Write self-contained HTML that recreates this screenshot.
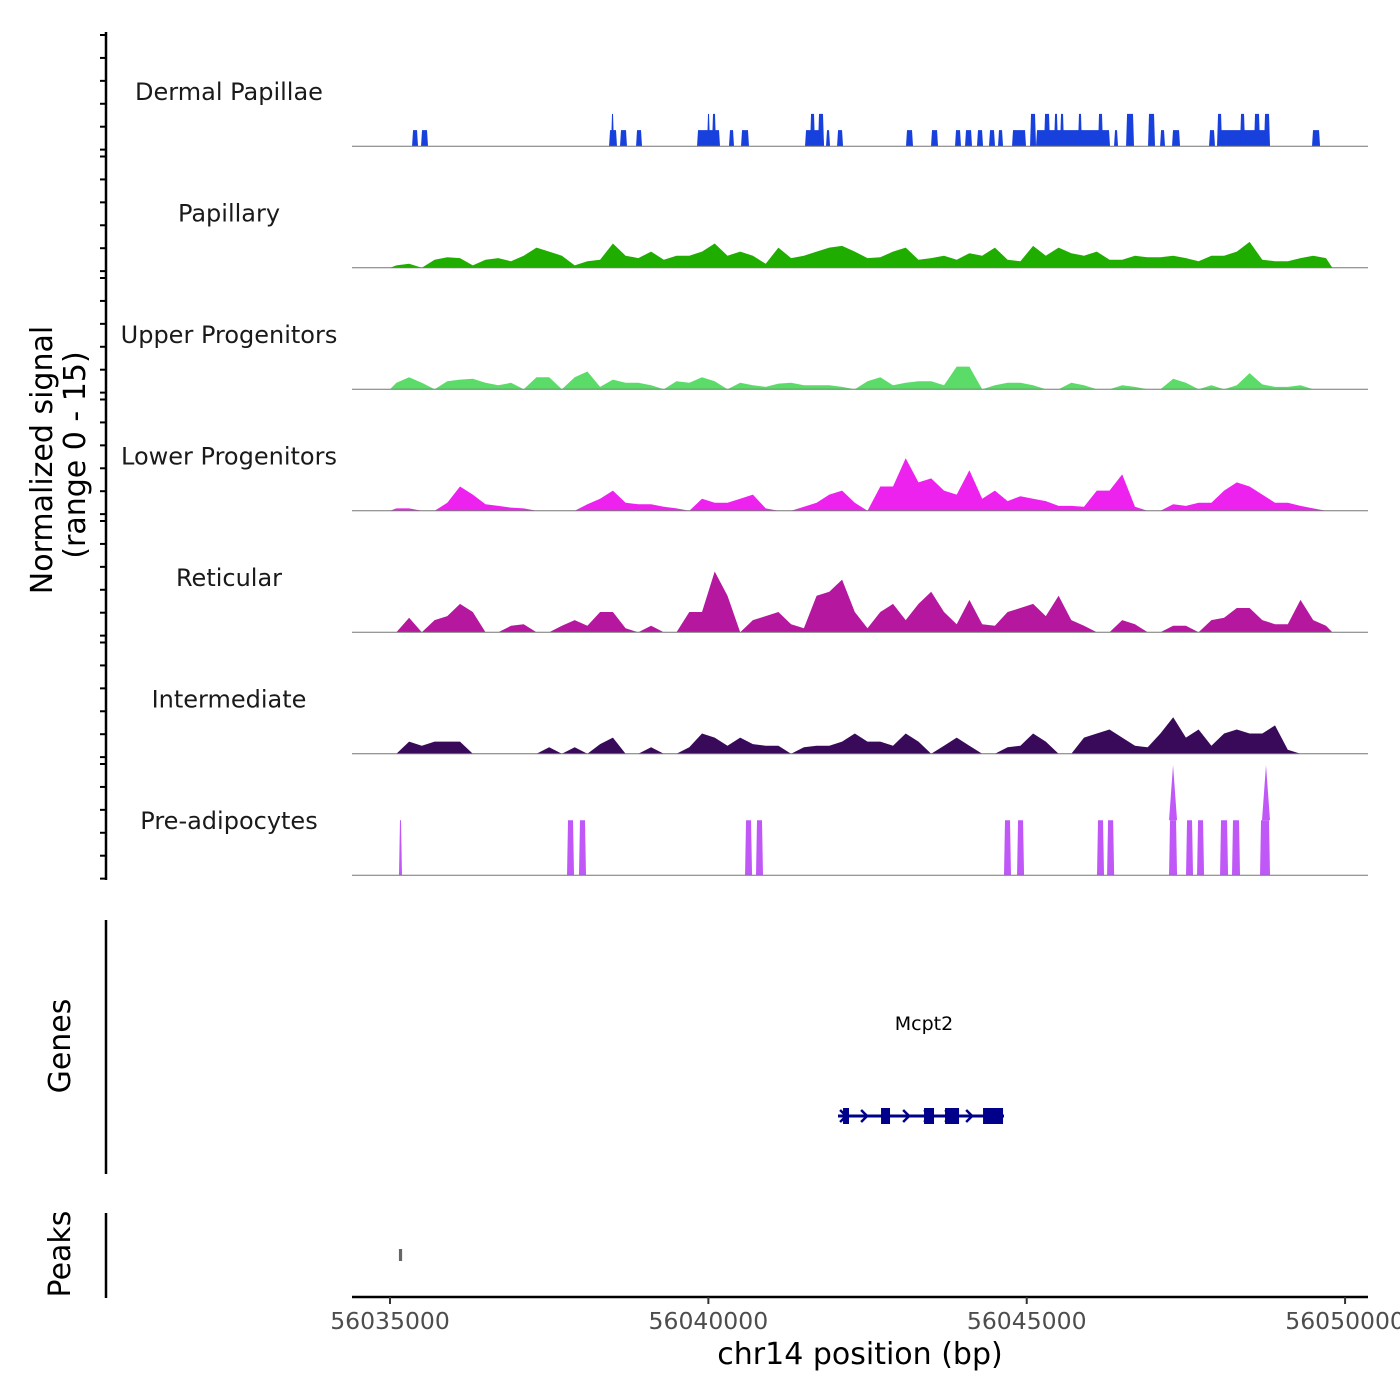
<!DOCTYPE html>
<html><head><meta charset="utf-8"><style>
html,body{margin:0;padding:0;background:#fff;}
svg{display:block;font-family:"DejaVu Sans","Liberation Sans",sans-serif;}
</style></head><body>
<svg id="chart" width="1400" height="1400" viewBox="0 0 1400 1400" xmlns="http://www.w3.org/2000/svg">
<g id="axes"></g>
<g id="tracks"></g>
<g id="genes"></g>
<text transform="translate(52,460) rotate(-90)" text-anchor="middle" font-size="30" fill="#000">Normalized signal</text>
<text transform="translate(85,455) rotate(-90)" text-anchor="middle" font-size="30" fill="#000">(range 0 - 15)</text>
<text transform="translate(70,1046) rotate(-90)" text-anchor="middle" font-size="30" fill="#000">Genes</text>
<text transform="translate(70,1254) rotate(-90)" text-anchor="middle" font-size="30" fill="#000">Peaks</text>
<text x="860" y="1364" text-anchor="middle" font-size="30" fill="#000">chr14 position (bp)</text>
</svg>
<script>
const regionStart = 56034403, regionEnd = 56050360;
const xTicks = [56035000, 56040000, 56045000, 56050000];
const xTickLabels = ["56035000", "56040000", "56045000", "56050000"];
const trackNames = ["Dermal Papillae","Papillary","Upper Progenitors","Lower Progenitors","Reticular","Intermediate","Pre-adipocytes"];
const trackColors = ["#1740dc","#1fae00","#5bdc68","#ee22ee","#b5179e","#3a0a5a","#c058f8"];
const binStart = 56035000, binSize = 200;
const papillary = [0.3,0.5,0,1,1.3,1.2,0.3,1,1.2,0.8,1.5,2.5,2,1.5,0.3,0.8,1,3,1.5,1.2,2,1,1.5,1.5,2,3,1.5,2,1.5,0.5,2.5,1.2,1.5,2,2.5,2.7,2,1.2,1.3,2,2.5,1,1.2,1.5,1,1.8,1.5,2.5,1,0.8,2.7,1.5,2.5,1.8,1.5,2,1,1,1.5,1.3,1.3,1.5,1.2,0.8,1.5,1.5,2,3.2,1,0.8,0.8,1.2,1.5,1.2];
const upperProg = [0.8,1.5,0.8,0,1,1.2,1.3,0.8,0.5,0.8,0,1.5,1.5,0,1.5,2.2,0.3,1.2,0.8,0.8,0.5,0,1,0.8,1.5,1,0,0.8,0.5,0.3,0.7,0.8,0.5,0.5,0.5,0.3,0,1,1.5,0.5,0.8,1,1,0.5,2.8,2.8,0,0.5,0.8,0.8,0.5,0,0,0.8,0.5,0,0,0.5,0.3,0,0,1.3,0.8,0,0.5,0,0.5,2,0.6,0.3,0.3,0.5,0,0];
const lowerProg = [0.3,0.3,0,0,1,3,2,0.8,0.6,0.4,0.3,0,0,0,0,0.8,1.5,2.5,1,0.8,0.8,0.5,0.3,0,1.5,1,1,1.5,2,0.3,0,0,0.5,1,2,2.5,1,0,3,3,6.5,3.5,4,2.5,2,5,1.5,2.5,1.2,1.8,1.5,1.2,0.6,0.6,0.5,2.5,2.5,4.5,0.5,0,0,0.8,0.6,1,1,2.5,3.5,3,2,1,1,0.6,0.3,0];
const reticular = [0,1.8,0,1.5,2,3.5,2.5,0,0,0.8,1,0,0,0.8,1.5,0.8,2.5,2.5,0.5,0,0.8,0,0,2.5,2.5,7.5,4.5,0,1.5,2,2.5,1,0.5,4.5,5,6.5,2.5,0.5,2.5,3.5,1.5,3.5,5,2.5,1,4,1,0.8,2.5,3,3.5,2,4.5,1.5,0.8,0,0,1.5,1,0,0,0.8,0.8,0,1.5,1.8,3,3,1.5,1,1,4,1.5,0.8];
const intermediate = [0,1.5,1,1.5,1.5,1.5,0,0,0,0,0,0,0.8,0,0.8,0,1.2,2,0,0,0.8,0,0,0.8,2.5,2,1,2,1.2,1,1,0,0.8,1,1,1.5,2.5,1.5,1.5,1,2.5,1.5,0,1,2,1,0,0,0.8,1,2.5,1.5,0,0,2,2.5,3,2,1,0.8,2.5,4.5,2,3,1,2.5,3,2.5,2.5,3.5,0.5,0,0,0];
const dpStarts = [56035346,56035487,56038440,56038471,56038612,56038864,56039822,56039979,56040057,56040324,56040513,56041518,56041597,56041722,56041848,56042021,56043104,56043497,56043874,56044031,56044219,56044408,56044549,56044769,56045052,56045146,56045272,56045429,56045523,56045805,56046120,56046371,56046560,56046905,56047094,56047282,56047863,56047989,56048036,56048350,56048570,56048727,56049481];
const dpEnds   = [56035440,56035597,56038565,56038518,56038722,56038958,56040183,56040026,56040120,56040403,56040638,56041816,56041675,56041816,56041911,56042115,56043214,56043607,56043968,56044141,56044314,56044502,56044628,56044989,56045146,56046308,56045366,56045491,56045586,56045868,56046198,56046434,56046685,56047015,56047172,56047408,56047957,56048068,56048790,56048429,56048664,56048821,56049607];
const dpValues = [2,2,2,4,2,2,2,4,4,2,2,2,4,4,2,2,2,2,2,2,2,2,2,2,4,2,4,4,4,4,4,2,4,4,2,2,2,4,2,4,4,4,2];
const preStarts = [56035141,56037780,56037968,56040576,56040748,56044643,56044848,56046104,56046262,56047235,56047502,56047675,56048036,56048224,56048664];
const preEnds   = [56035188,56037890,56038078,56040686,56040858,56044753,56044958,56046214,56046373,56047361,56047612,56047785,56048162,56048350,56048821];
const preValues = [6.8,6.8,6.8,6.8,6.8,6.8,6.8,6.8,6.8,6.8,6.8,6.8,6.8,6.8,6.8];
const preSpikePos = [56047298,56048758];
const preSpikeVal = [13.6,13.6];
const geneName = "Mcpt2";
const geneStart = 56042036, geneEnd = 56044643;
const exonStarts = [56042115,56042712,56043387,56043717,56044314];
const exonEnds   = [56042209,56042853,56043544,56043937,56044628];
const peakStarts = [56035140];
const peakEnds = [56035190];

const NS="http://www.w3.org/2000/svg";
const X0=352, X1=1368;
function xs(bp){return X0+(bp-regionStart)/(regionEnd-regionStart)*(X1-X0);}
const trackTop=24.8, trackH=121.5, unitPx=trackH/15;
function ys(t,v){return trackTop+(t+1)*trackH - v*unitPx;}
function mk(tag,attrs,parent){const e=document.createElementNS(NS,tag);for(const k in attrs)e.setAttribute(k,attrs[k]);parent.appendChild(e);return e;}
const axes=document.getElementById('axes'), tracks=document.getElementById('tracks'), genes=document.getElementById('genes');

let a=mk('line',{x1:106,y1:32,x2:106,y2:880,stroke:'#000','stroke-width':2.5},axes);


for(let t=0;t<7;t++){
  for(let k=0;k<=5;k++){
    const y=32+t*trackH+k*trackH/5.3+3;
    const tk=mk('line',{x1:100,y1:y,x2:106,y2:y,stroke:'#000','stroke-width':2},axes);
    
    
  }
}
a=mk('line',{x1:106,y1:920,x2:106,y2:1174,stroke:'#000','stroke-width':2.5},axes);


a=mk('line',{x1:106,y1:1213,x2:106,y2:1298,stroke:'#000','stroke-width':2.5},axes);


a=mk('line',{x1:352,y1:1297,x2:1368,y2:1297,stroke:'#000','stroke-width':2.5},axes);


xTicks.forEach((v,i)=>{
  const x=xs(v);
  const tk=mk('line',{x1:x,y1:1297,x2:x,y2:1304,stroke:'#333','stroke-width':2},axes);
  
  
  const tl=mk('text',{x:x,y:1329,'text-anchor':'middle','font-size':23.5,fill:'#4d4d4d'},axes);
  tl.textContent=xTickLabels[i];
  
  
});

trackNames.forEach((n,t)=>{
  const lb=mk('text',{x:229,y:trackTop+t*trackH+75,'text-anchor':'middle','font-size':24,fill:'#1a1a1a'},tracks);
  lb.textContent=n;
  
  
});

function binArea(t,vals){
  let d='M'+xs(binStart)+','+ys(t,0);
  vals.forEach((v,i)=>{
    const c=binStart+(i+0.5)*binSize;
    d+=' L'+xs(c).toFixed(1)+','+ys(t,v).toFixed(1);
  });
  d+=' L'+xs(binStart+vals.length*binSize)+','+ys(t,0)+' Z';
  const p=mk('path',{d:d,fill:trackColors[t]},tracks);
  
  
}
function segs(t,starts,ends,vals){
  starts.forEach((s,i)=>{
    const x0=xs(s), x1=xs(ends[i]), y=ys(t,vals[i]), yb=ys(t,0);
    const p=mk('path',{d:`M${x0},${yb} L${x0+1},${y} L${x1-1},${y} L${x1},${yb} Z`,fill:trackColors[t]},tracks);
    
    
  });
}
segs(0,dpStarts,dpEnds,dpValues);
binArea(1,papillary);
binArea(2,upperProg);
binArea(3,lowerProg);
binArea(4,reticular);
binArea(5,intermediate);
segs(6,preStarts,preEnds,preValues);
preSpikePos.forEach((s,i)=>{
  const x=xs(s);
  const p=mk('path',{d:`M${x-4},${ys(6,6.8)} L${x},${ys(6,preSpikeVal[i])} L${x+4},${ys(6,6.8)} Z`,fill:trackColors[6]},tracks);
  
  
});
for(let t=0;t<7;t++){
  const y=ys(t,0);
  const bl=mk('line',{x1:352,y1:y,x2:1368,y2:y,stroke:'#777','stroke-width':1},tracks);
  
  
}

const gy=1116;
let g=mk('line',{x1:xs(geneStart),y1:gy,x2:xs(geneEnd),y2:gy,stroke:'#00008b','stroke-width':3},genes);


exonStarts.forEach((s,i)=>{
  const r=mk('rect',{x:xs(s),y:gy-8,width:xs(exonEnds[i])-xs(s),height:16,fill:'#00008b'},genes);
  
  
});
for(let p=geneStart+80;p<geneEnd;p+=330){
  const x=xs(p);
  const c=mk('path',{d:`M${x-3},${gy-6} L${x+3},${gy} L${x-3},${gy+6}`,stroke:'#00008b','stroke-width':2.5,fill:'none'},genes);
  
  
}
const gl=mk('text',{x:xs((geneStart+geneEnd)/2)+3,y:1030,'text-anchor':'middle','font-size':19,fill:'#000'},genes);
gl.textContent=geneName;



peakStarts.forEach((s,i)=>{
  const r=mk('rect',{x:xs(s),y:1249,width:Math.max(3,xs(peakEnds[i])-xs(s)),height:12,fill:'#666'},genes);
  
  
});
</script>
</body></html>
